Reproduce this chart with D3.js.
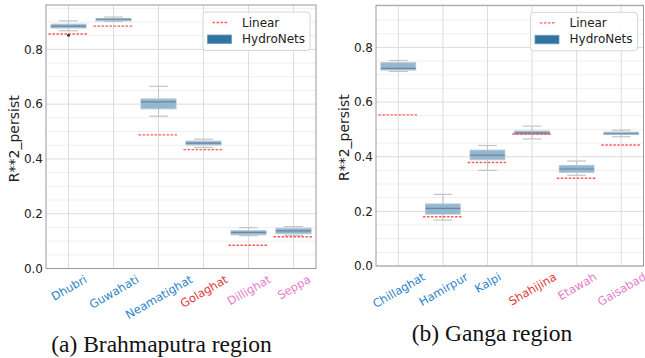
<!DOCTYPE html>
<html><head><meta charset="utf-8">
<script src="https://cdn.jsdelivr.net/npm/d3@7"></script>
<style>body{margin:0;background:#fff}svg{display:block}</style>
</head><body>
<svg id="chart" width="645" height="358"></svg>
<script>
// ---------------- DATA ----------------
const brahmaCategories = ["Dhubri","Guwahati","Neamatighat","Golaghat","Dillighat","Seppa"];
const brahmaLabelGroup = ["blue","blue","blue","red","pink","pink"];
const brahmaLow    = [0.868,0.902,0.556,0.442,0.120,0.121];
const brahmaQ1     = [0.878,0.904,0.583,0.451,0.123,0.127];
const brahmaMedian = [0.885,0.910,0.608,0.458,0.132,0.137];
const brahmaQ3     = [0.892,0.913,0.619,0.465,0.138,0.147];
const brahmaHigh   = [0.904,0.918,0.665,0.472,0.149,0.153];
const brahmaOutliers = [[0.852],[],[],[],[],[]];
const brahmaLinear = [0.856,0.885,0.488,0.434,0.085,0.116];

const gangaCategories = ["Chillaghat","Hamirpur","Kalpi","Shahijina","Etawah","Gaisabad"];
const gangaLabelGroup = ["blue","blue","blue","red","pink","pink"];
const gangaLow    = [0.712,0.168,0.350,0.465,0.332,0.473];
const gangaQ1     = [0.717,0.190,0.389,0.482,0.343,0.482];
const gangaMedian = [0.723,0.211,0.406,0.487,0.355,0.484];
const gangaQ3     = [0.744,0.227,0.424,0.494,0.368,0.490];
const gangaHigh   = [0.752,0.262,0.441,0.512,0.384,0.497];
const gangaOutliers = [[],[],[],[],[],[]];
const gangaLinear = [0.553,0.180,0.379,0.483,0.321,0.443];

const yTickValues = [0.0,0.2,0.4,0.6,0.8];
const legendLabels = ["Linear","HydroNets"];
const yLabel = "R**2_persist";
const captions = ["(a) Brahmaputra region","(b) Ganga region"];

// ---------------- STYLE ----------------
const groupColor = {blue:"#2b84c6", red:"#e2363a", pink:"#e67bc9"};
const svg = d3.select("#chart");
const FONT = "DejaVu Sans, sans-serif";

function panel(cfg) {
  const {left,right,top,bottom,yMax,cats,groups,low,q1,med,q3,high,outl,lin,labelX} = cfg;
  const g = svg.append("g");
  const x = d3.scalePoint().domain(cats).range([left,right]).padding(0.5);
  const y = d3.scaleLinear().domain([0,yMax]).range([bottom,top]);
  const step = x.step();

  // minor grid
  const minor = y.ticks(20).filter(v => !yTickValues.some(t => Math.abs(t-v)<1e-9));
  g.append("g").selectAll("line").data(minor).join("line")
    .attr("x1",left).attr("x2",right).attr("y1",d=>y(d)).attr("y2",d=>y(d))
    .attr("stroke","#efefef").attr("stroke-width",1);
  // major grid
  g.append("g").selectAll("line").data(yTickValues).join("line")
    .attr("x1",left).attr("x2",right).attr("y1",d=>y(d)).attr("y2",d=>y(d))
    .attr("stroke","#dcdcdc").attr("stroke-width",1);
  g.append("g").selectAll("line").data(cats).join("line")
    .attr("x1",d=>x(d)).attr("x2",d=>x(d)).attr("y1",top).attr("y2",bottom)
    .attr("stroke","#dcdcdc").attr("stroke-width",1);

  const idx = d3.range(cats.length);
  const bw = step*0.78, cw = step*0.42, lw = step*0.89;
  const bx = g.append("g");
  // whiskers
  bx.selectAll(".wl").data(idx).join("line")
    .attr("x1",i=>x(cats[i])).attr("x2",i=>x(cats[i]))
    .attr("y1",i=>y(high[i])).attr("y2",i=>y(q3[i]))
    .attr("stroke","#c4c4c4").attr("stroke-width",1);
  bx.selectAll(".wh").data(idx).join("line")
    .attr("x1",i=>x(cats[i])).attr("x2",i=>x(cats[i]))
    .attr("y1",i=>y(q1[i])).attr("y2",i=>y(low[i]))
    .attr("stroke","#c4c4c4").attr("stroke-width",1);
  bx.selectAll(".ch").data(idx).join("line")
    .attr("x1",i=>x(cats[i])-cw/2).attr("x2",i=>x(cats[i])+cw/2)
    .attr("y1",i=>y(high[i])).attr("y2",i=>y(high[i]))
    .attr("stroke","#c4c4c4").attr("stroke-width",1.2);
  bx.selectAll(".cl").data(idx).join("line")
    .attr("x1",i=>x(cats[i])-cw/2).attr("x2",i=>x(cats[i])+cw/2)
    .attr("y1",i=>y(low[i])).attr("y2",i=>y(low[i]))
    .attr("stroke","#c4c4c4").attr("stroke-width",1.2);
  // boxes
  bx.selectAll("rect").data(idx).join("rect")
    .attr("x",i=>x(cats[i])-bw/2).attr("width",bw)
    .attr("y",i=>y(q3[i])).attr("height",i=>Math.max(1,y(q1[i])-y(q3[i])))
    .attr("fill","#95b6cf").attr("stroke","#b3c6d5").attr("stroke-width",1);
  bx.selectAll(".md").data(idx).join("line")
    .attr("x1",i=>x(cats[i])-bw/2).attr("x2",i=>x(cats[i])+bw/2)
    .attr("y1",i=>y(med[i])).attr("y2",i=>y(med[i]))
    .attr("stroke","#6887a0").attr("stroke-width",1.2);
  // linear
  g.append("g").selectAll("line").data(idx).join("line")
    .attr("x1",i=>x(cats[i])-lw/2).attr("x2",i=>x(cats[i])+lw/2)
    .attr("y1",i=>y(lin[i])).attr("y2",i=>y(lin[i]))
    .attr("stroke","#ff3b3b").attr("stroke-opacity",0.85).attr("stroke-width",1.4)
    .attr("stroke-dasharray","2.5,1.5");
  // outliers
  const outPts = idx.flatMap(i => outl[i].map(v => ({c:cats[i], v})));
  g.append("g").selectAll("circle").data(outPts).join("circle")
    .attr("cx",d=>x(d.c)).attr("cy",d=>y(d.v)).attr("r",1.5).attr("fill","#333");

  // spines
  g.append("rect").attr("x",left).attr("y",top).attr("width",right-left).attr("height",bottom-top)
    .attr("fill","none").attr("stroke","#999").attr("stroke-width",1);

  // y axis
  const ya = g.append("g").attr("transform",`translate(${left},0)`)
    .call(d3.axisLeft(y).tickValues(yTickValues).tickSize(0).tickPadding(3).tickFormat(d3.format(".1f")));
  ya.select(".domain").remove();
  ya.selectAll("text").attr("font-family",FONT).attr("font-size",12).attr("fill","#222");

  // x axis
  const xa = g.append("g").attr("transform",`translate(0,${bottom})`)
    .call(d3.axisBottom(x).tickSize(0));
  xa.select(".domain").remove();
  xa.selectAll("text")
    .attr("font-family",FONT).attr("font-size",11.5)
    .attr("fill",(d,i)=>groupColor[groups[i]])
    .attr("text-anchor","middle").attr("y",0).attr("dy","0.35em")
    .each(function(){
      const L = this.getComputedTextLength();
      const h = 11.5*1.05;
      const H = L*0.5 + h*0.866;
      d3.select(this).attr("transform",`translate(0,${4.5 + H/2}) rotate(-30)`);
    });

  // y label
  g.append("text").attr("transform",`translate(${labelX},${(top+bottom)/2+2}) rotate(-90)`)
    .attr("text-anchor","middle").attr("font-family",FONT).attr("font-size",14).attr("fill","#222")
    .text(yLabel);

  // legend
  const lg = g.append("g").attr("transform",`translate(${right-113},${top+7})`);
  lg.append("rect").attr("width",107).attr("height",38.5).attr("rx",3)
    .attr("fill","#fff").attr("fill-opacity",0.85).attr("stroke","#d6d6d6").attr("stroke-width",1);
  lg.append("line").attr("x1",9.5).attr("x2",24.5).attr("y1",10.5).attr("y2",10.5)
    .attr("stroke","#ff3b3b").attr("stroke-opacity",0.85).attr("stroke-width",1.3).attr("stroke-dasharray","2.5,1.5");
  lg.append("rect").attr("x",4.5).attr("y",23).attr("width",24).attr("height",8.5)
    .attr("fill","#3274a1").attr("stroke","#6d98b8").attr("stroke-width",0.8);
  lg.selectAll("text").data(legendLabels).join("text")
    .attr("x",39).attr("y",(d,i)=>14.5+i*16.3)
    .attr("font-family",FONT).attr("font-size",12).attr("fill","#222").text(d=>d);
}

panel({left:46,right:316,top:5,bottom:268.5,yMax:0.962,
  cats:brahmaCategories,groups:brahmaLabelGroup,low:brahmaLow,q1:brahmaQ1,med:brahmaMedian,
  q3:brahmaQ3,high:brahmaHigh,outl:brahmaOutliers,lin:brahmaLinear,labelX:18.5});
panel({left:376,right:643.5,top:5.3,bottom:266,yMax:0.954,
  cats:gangaCategories,groups:gangaLabelGroup,low:gangaLow,q1:gangaQ1,med:gangaMedian,
  q3:gangaQ3,high:gangaHigh,outl:gangaOutliers,lin:gangaLinear,labelX:348.5});

// captions
svg.selectAll(".cap").data(captions).join("text")
  .attr("x",(d,i)=>[161.5,492][i]).attr("y",(d,i)=>[352,341][i])
  .attr("text-anchor","middle").attr("font-family","Liberation Serif, Times New Roman, serif")
  .attr("font-size",23.5).attr("fill","#111").text(d=>d);
</script>
</body></html>
